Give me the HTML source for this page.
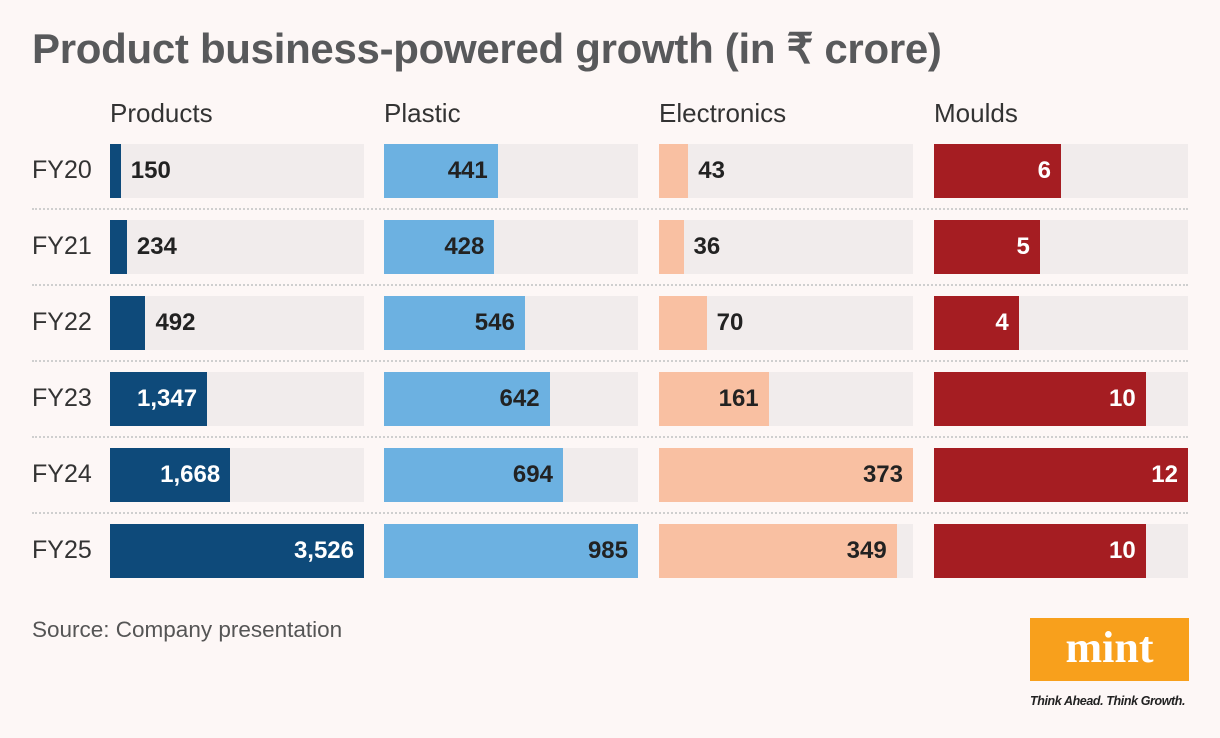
<!DOCTYPE html>
<html><head><meta charset="utf-8"><style>
body{margin:0;background:#fdf7f6;font-family:"Liberation Sans",sans-serif;}
#root{position:relative;width:1220px;height:738px;overflow:hidden;}
.abs{position:absolute;}
h1{position:absolute;left:32px;top:24px;margin:0;font-size:42px;font-weight:bold;color:#58595b;letter-spacing:-0.3px;}
.hdr{font-size:26px;color:#333;top:98px;}
.row{font-size:25px;color:#333;}
.val{font-size:24px;font-weight:bold;line-height:54px;}
.sep{position:absolute;left:32px;width:1156px;border-top:2px dotted #cfcfcf;height:0;}
</style></head><body>
<div id="root">
<h1>Product business-powered growth (in ₹ crore)</h1>
<div class="abs" style="left:32px;top:617px;font-size:22.5px;color:#555">Source: Company presentation</div>
<div class="abs" style="left:1030px;top:618px;width:159px;height:63px;background:#f8a01c;color:#fff;font-family:'Liberation Serif',serif;font-weight:bold;font-size:44px;text-align:center;line-height:60px">mint</div>
<div class="abs" style="left:1030px;top:694px;font-size:12.5px;font-style:italic;font-weight:bold;color:#222;letter-spacing:-0.4px">Think Ahead. Think Growth.</div>
</div>
<script>
const years=["FY20","FY21","FY22","FY23","FY24","FY25"];
const seriesNames=["Products","Plastic","Electronics","Moulds"];
const products=[150,234,492,1347,1668,3526];
const plastic=[441,428,546,642,694,985];
const electronics=[43,36,70,161,373,349];
const moulds=[6,5,4,10,12,10];
const series=[products,plastic,electronics,moulds];
const colors=["#0e4a7a","#6cb1e1","#f9c0a2","#a51d22"];
const insideText=["#fff","#222","#222","#fff"];
const root=document.getElementById('root');
const panelX=[110,384,659,934], panelW=254, rowY0=144, rowStep=76, barH=54;
function fmt(v){return v.toLocaleString('en-US');}
seriesNames.forEach((n,s)=>{
  const h=document.createElement('div');h.className='abs hdr';h.style.left=panelX[s]+'px';h.textContent=n;
  
  
  root.appendChild(h);
});
years.forEach((y,i)=>{
  const top=rowY0+i*rowStep;
  const l=document.createElement('div');l.className='abs row';l.style.left='32px';l.style.top=(top+12)+'px';l.textContent=y;
  
  
  root.appendChild(l);
  if(i<years.length-1){const d=document.createElement('div');d.className='sep';d.style.top=(top+barH+10)+'px';
    
    
    root.appendChild(d);}
  series.forEach((arr,s)=>{
    const max=Math.max(...arr);
    const x=v=>v/max*panelW;
    const tr=document.createElement('div');tr.className='abs';
    tr.style.cssText=`left:${panelX[s]}px;top:${top}px;width:${panelW}px;height:${barH}px;background:#f1ecec`;
    
    
    root.appendChild(tr);
    const w=x(arr[i]);
    const b=document.createElement('div');b.className='abs';
    b.style.cssText=`left:${panelX[s]}px;top:${top}px;width:${w}px;height:${barH}px;background:${colors[s]}`;
    
    
    root.appendChild(b);
    const t=document.createElement('div');t.className='abs val';t.textContent=fmt(arr[i]);
    
    
    const inside=w>60;
    if(inside){t.style.cssText=`right:${1220-(panelX[s]+w)+10}px;top:${top}px;color:${insideText[s]}`;}
    else{t.style.cssText=`left:${panelX[s]+w+10}px;top:${top}px;color:#222`;}
    root.appendChild(t);
  });
});
</script>
</body></html>
